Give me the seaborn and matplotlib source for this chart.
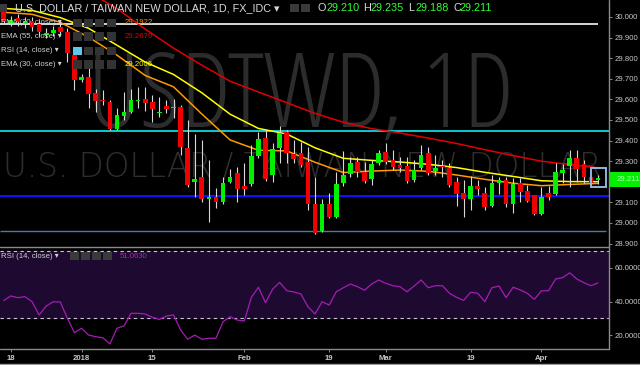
import numpy as np
import pandas as pd
import matplotlib
matplotlib.use("Agg")
import matplotlib.pyplot as plt
import matplotlib.transforms as mtransforms
from matplotlib.patches import Rectangle
from matplotlib.lines import Line2D
from matplotlib.textpath import TextPath
from matplotlib.font_manager import FontProperties
from matplotlib import font_manager as fm
import seaborn as sns

# ---------------- data ----------------
# bar index 0 = 2017-12-18 (daily, weekdays)
bar_idx = list(range(-1, 84))
opens = [30.024, 29.971, 29.995, 29.966, 29.981, 29.966, 29.913, 29.922, 29.951, 29.927,
         29.816, 29.694, 29.709, 29.631, 29.597, 29.587, 29.456, 29.519, 29.539, 29.590,
         29.602, 29.587, 29.534, 29.568, 29.556, 29.563, 29.364, 29.199, 29.223, 29.117,
         29.126, 29.102, 29.199, 29.243, 29.180, 29.189, 29.325, 29.413, 29.233, 29.364,
         29.442, 29.335, 29.340, 29.296, 29.092, 28.961, 29.092, 29.029, 29.194, 29.238,
         29.296, 29.248, 29.214, 29.291, 29.345, 29.306, 29.282, 29.277, 29.209, 29.267,
         29.340, 29.252, 29.277, 29.267, 29.199, 29.146, 29.117, 29.180, 29.146, 29.083,
         29.194, 29.209, 29.092, 29.194, 29.155, 29.136, 29.044, 29.146, 29.141, 29.243,
         29.277, 29.316, 29.286, 29.223, 29.210]
highs = [30.044, 30.005, 30.015, 30.000, 30.000, 29.985, 29.947, 29.956, 29.985, 29.947,
         29.830, 29.723, 29.782, 29.650, 29.646, 29.597, 29.558, 29.636, 29.650, 29.660,
         29.660, 29.621, 29.612, 29.597, 29.602, 29.573, 29.500, 29.432, 29.403, 29.306,
         29.170, 29.223, 29.262, 29.272, 29.291, 29.379, 29.442, 29.451, 29.388, 29.471,
         29.451, 29.403, 29.393, 29.369, 29.223, 29.117, 29.146, 29.248, 29.350, 29.320,
         29.320, 29.296, 29.306, 29.354, 29.388, 29.354, 29.320, 29.320, 29.306, 29.379,
         29.369, 29.330, 29.306, 29.291, 29.223, 29.209, 29.228, 29.209, 29.175, 29.233,
         29.223, 29.223, 29.218, 29.218, 29.184, 29.136, 29.175, 29.180, 29.291, 29.286,
         29.354, 29.354, 29.306, 29.233, 29.235]
lows = [29.966, 29.956, 29.956, 29.947, 29.932, 29.908, 29.898, 29.908, 29.908, 29.782,
        29.646, 29.684, 29.558, 29.539, 29.573, 29.451, 29.451, 29.500, 29.534, 29.558,
        29.544, 29.490, 29.515, 29.534, 29.510, 29.330, 29.175, 29.126, 29.102, 29.005,
        29.073, 29.092, 29.194, 29.102, 29.136, 29.180, 29.316, 29.204, 29.199, 29.291,
        29.291, 29.291, 29.272, 29.063, 28.948, 28.956, 29.024, 29.024, 29.180, 29.223,
        29.223, 29.194, 29.184, 29.282, 29.286, 29.257, 29.248, 29.194, 29.199, 29.257,
        29.233, 29.233, 29.223, 29.175, 29.083, 29.029, 29.063, 29.136, 29.063, 29.078,
        29.141, 29.078, 29.049, 29.102, 29.102, 29.039, 29.039, 29.112, 29.136, 29.194,
        29.175, 29.199, 29.194, 29.184, 29.188]
closes = [29.981, 29.985, 29.976, 29.981, 29.951, 29.927, 29.922, 29.937, 29.927, 29.825,
          29.694, 29.709, 29.626, 29.592, 29.592, 29.456, 29.524, 29.539, 29.597, 29.597,
          29.583, 29.553, 29.539, 29.553, 29.563, 29.369, 29.184, 29.214, 29.117, 29.126,
          29.102, 29.194, 29.223, 29.165, 29.165, 29.325, 29.408, 29.214, 29.359, 29.437,
          29.340, 29.311, 29.282, 29.092, 28.951, 29.092, 29.029, 29.189, 29.233, 29.291,
          29.248, 29.204, 29.286, 29.340, 29.296, 29.272, 29.267, 29.204, 29.257, 29.330,
          29.243, 29.267, 29.270, 29.184, 29.141, 29.117, 29.180, 29.165, 29.078, 29.194,
          29.209, 29.092, 29.189, 29.150, 29.107, 29.044, 29.126, 29.126, 29.248, 29.257,
          29.316, 29.262, 29.223, 29.194, 29.211]

ema_idx = [-1, 3, 7, 11, 15, 19, 23, 27, 31, 35, 39, 43, 47, 51, 55, 59, 63, 67, 71, 75, 79, 83]
ema20 = [30.023, 30.013, 29.974, 29.902, 29.815, 29.716, 29.661, 29.529, 29.403, 29.353, 29.350,
         29.295, 29.245, 29.252, 29.257, 29.251, 29.233, 29.212, 29.193, 29.181, 29.187, 29.1922]
ema30 = [30.042, 30.032, 29.997, 29.945, 29.863, 29.781, 29.721, 29.632, 29.528, 29.459, 29.432,
         29.365, 29.314, 29.304, 29.296, 29.285, 29.269, 29.246, 29.226, 29.205, 29.201, 29.2006]
ema55 = [30.350, 30.252, 30.180, 30.121, 30.041, 29.941, 29.849, 29.766, 29.688, 29.636, 29.584,
         29.532, 29.489, 29.458, 29.437, 29.412, 29.386, 29.356, 29.327, 29.300, 29.284, 29.2679]

rsi = [40.6, 43.3, 42.3, 42.9, 39.9, 32.0, 37.3, 39.9, 39.7, 30.0,
       21.5, 24.1, 20.1, 19.1, 18.5, 14.8, 24.1, 25.5, 33.0, 33.0,
       32.6, 30.6, 29.4, 31.4, 32.0, 23.1, 17.6, 20.1, 17.6, 18.2,
       18.2, 28.0, 31.0, 29.0, 28.4, 42.5, 48.5, 39.3, 47.3, 51.4,
       46.4, 45.7, 44.5, 36.9, 32.6, 39.9, 37.9, 45.8, 48.2, 50.4,
       48.8, 46.7, 50.4, 52.8, 50.8, 49.4, 48.8, 45.8, 49.2, 52.8,
       48.2, 49.4, 49.4, 44.9, 42.5, 40.7, 45.5, 44.9, 39.9, 48.2,
       49.2, 42.3, 48.5, 46.9, 44.9, 41.3, 46.4, 46.4, 53.4, 54.2,
       57.1, 53.4, 51.2, 49.4, 51.063]

level_white = 29.966
level_cyan = 29.447
level_blue = 29.131
level_steel = 28.961

price_ticks = [28.9, 29.0, 29.1, 29.2, 29.3, 29.4, 29.5, 29.6, 29.7, 29.8, 29.9, 30.0]
rsi_ticks = [20, 40, 60]
rsi_bands = [30, 70]
date_ticks = [0, 10, 20, 33, 45, 53, 65, 75]
date_labels = ["18", "2018", "15", "Feb", "19", "Mar", "19", "Apr"]

title = "U.S. DOLLAR / TAIWAN NEW DOLLAR, 1D, FX_IDC"
watermark_big = "USDTWD, 1D"
watermark_small = "U.S. DOLLAR / TAIWAN NEW DOLLAR"
ohlc_names = ["O", "H", "L", "C"]
ohlc_vals = ["29.210", "29.235", "29.188", "29.211"]
legend_rows = [("EMA (20, close)", "29.1922", "#ff9a00"),
               ("EMA (55, close)", "29.2679", "#e00000"),
               ("RSI (14, close)", "", "#ffffff"),
               ("EMA (30, close)", "29.2006", "#ffff00")]
rsi_legend = ("RSI (14, close)", "51.0630")

# ---------------- style ----------------
sns.set_theme(style="dark")
plt.rcParams['font.family'] = ['Liberation Sans', 'DejaVu Sans']
plt.rcParams['axes.facecolor'] = 'black'
plt.rcParams['figure.facecolor'] = 'black'

GREEN = '#00f000'
RED = '#f00000'
GRID = '#8a8a8a'
TXT = '#c8c8c8'
DPI = 100
W, H = 640, 365


def fx(x):
    return x / W


def fy(y):
    return 1 - y / H


def fit_font(s, target_w, target_cap, mix=0.5):
    """Pick an installed thin font file whose proportions best match; size it to the target box."""
    fams = {'Noto Sans', 'Roboto', 'Open Sans', 'DejaVu Sans', 'Lato', 'Liberation Sans', 'Inter'}
    best = None
    seen = set()
    for e in fm.fontManager.ttflist:
        if e.name not in fams or e.style != 'normal' or e.fname in seen:
            continue
        seen.add(e.fname)
        try:
            wt = int(e.weight)
        except Exception:
            wt = 400
        if wt > 400:
            continue
        try:
            fp = FontProperties(fname=e.fname)
            w = TextPath((0, 0), s, size=10, prop=fp).get_extents().width
            cap = TextPath((0, 0), "D", size=10, prop=fp).get_extents().height
        except Exception:
            continue
        if w <= 0 or cap <= 0:
            continue
        score = abs(np.log((w / cap) / (target_w / target_cap))) + (0.04 if wt >= 400 else 0.0)
        if best is None or score < best[0]:
            best = (score, fp, w, cap)
    if best is None:
        fp = FontProperties(family='DejaVu Sans')
        w = TextPath((0, 0), s, size=10, prop=fp).get_extents().width
        cap = TextPath((0, 0), "D", size=10, prop=fp).get_extents().height
        best = (0, fp, w, cap)
    _, fp, w, cap = best
    size_w = 10 * (target_w * 72 / DPI) / w
    size_h = 10 * (target_cap * 72 / DPI) / cap
    fp = fp.copy()
    fp.set_size(float(size_w ** (1 - mix) * size_h ** mix))
    return fp


fig = plt.figure(figsize=(6.4, 3.65), dpi=DPI, facecolor='black')
ax = fig.add_axes([0, fy(246), fx(609), 246 / H])
axr = fig.add_axes([0, fy(349), fx(609), 101 / H])

xmin, xmax = -1.527, 84.55
for a in (ax, axr):
    a.set_facecolor('black')
    a.set_xlim(xmin, xmax)
    a.grid(False)
    for s in a.spines.values():
        s.set_visible(False)
ax.set_ylim(28.8883, 30.0825)
axr.set_ylim(11.8, 71.8)

# watermark
fp_big = fit_font(watermark_big, 437, 70, mix=0.5)
ax.text(301.5 / 609, 1 - 127 / 246, watermark_big, transform=ax.transAxes, ha='center', va='baseline',
        fontproperties=fp_big, color='#2c2c2c', zorder=0)
fp_small = fit_font(watermark_small, 601, 22, mix=0.15)
ax.text(302.5 / 609, 1 - 177 / 246, watermark_small, transform=ax.transAxes, ha='center', va='baseline',
        fontproperties=fp_small, color='#2e2e2e', zorder=0)

# horizontal levels
ax.hlines(level_white, xmin, bar_idx[-1], color='#e6e6e6', lw=1.3, zorder=2)
ax.axhline(level_cyan, color='#10d8e0', lw=1.3, zorder=2)
ax.axhline(level_blue, color='#1010ff', lw=1.5, zorder=2)
ax.hlines(level_steel, xmin, bar_idx[-1] + 1.1, color='#4a78b0', lw=1.0, zorder=2)

# EMA lines
sns.lineplot(x=ema_idx, y=ema55, ax=ax, color='#e00000', lw=1.1, zorder=3)
sns.lineplot(x=ema_idx, y=ema30, ax=ax, color='#ffff00', lw=1.1, zorder=3)
sns.lineplot(x=ema_idx, y=ema20, ax=ax, color='#ff9a00', lw=1.1, zorder=3)

# candles
o = np.array(opens); c = np.array(closes)
ax.vlines(bar_idx, lows, highs, color='#d8d8d8', lw=0.8, zorder=4)
body_h = np.maximum(np.abs(c - o), 0.007)
body_b = np.minimum(o, c)
cols = [GREEN if cc >= oo else RED for oo, cc in zip(o, c)]
ax.bar(bar_idx, body_h, bottom=body_b, width=0.66, color=cols, linewidth=0, zorder=5)

# highlight box around last bar
ax.add_patch(Rectangle((bar_idx[-1] - 1.05, closes[-1] - 0.036), 2.15, 0.092, fill=False,
                       ec='#8fb8dc', lw=1.4, zorder=6))

# price axis (the 29.200 label sits under the last-price tag)
ax.yaxis.tick_right()
ax.set_yticks(price_ticks)
ax.set_yticklabels(["" if abs(t - 29.2) < 1e-9 else f"{t:.3f}" for t in price_ticks])
ax.tick_params(axis='y', colors=GRID, labelcolor=TXT, labelsize=5.6, length=2.5, width=0.7, pad=1.5,
               left=False, right=True)
ax.set_xticks([])
ax.set_xlabel(''); ax.set_ylabel('')

# last price tag
tr = mtransforms.blended_transform_factory(ax.transAxes, ax.transData)
ax.add_patch(Rectangle((1.0, closes[-1] - 0.036), 0.06, 0.073, transform=tr, clip_on=False,
                       fc='#00f000', ec='none', zorder=7))
ax.text(1.012, closes[-1], ohlc_vals[3], transform=tr, ha='left', va='center', fontsize=5.6,
        color='#b8ffb8', clip_on=False, zorder=8)

# RSI panel
axr.axhspan(rsi_bands[0], rsi_bands[1], color='#1e0a30', zorder=0)
for b in rsi_bands:
    axr.axhline(b, color='#c8c8c8', lw=0.8, dashes=(3, 3), zorder=1)
sns.lineplot(x=bar_idx, y=rsi, ax=axr, color='#a41cb4', lw=0.9, zorder=3)
axr.yaxis.tick_right()
axr.set_yticks(rsi_ticks)
axr.set_yticklabels([f"{t:.4f}" for t in rsi_ticks])
axr.tick_params(axis='y', colors=GRID, labelcolor=TXT, labelsize=5.6, length=2.5, width=0.7, pad=1.5,
                left=False, right=True)
axr.set_xticks(date_ticks)
axr.set_xticklabels(date_labels)
axr.tick_params(axis='x', colors=GRID, labelcolor=TXT, labelsize=5.6, length=2.5, width=0.7, pad=2,
                bottom=True)
for lab in axr.get_xticklabels():
    lab.set_fontweight('bold')
axr.set_xlabel(''); axr.set_ylabel('')

# frame lines
fig.add_artist(Line2D([fx(609), fx(609)], [fy(349), 1], color=GRID, lw=1.0))
fig.add_artist(Line2D([0, fx(609)], [fy(349), fy(349)], color=GRID, lw=1.0))
fig.add_artist(Line2D([0, fx(609)], [fy(246.5), fy(246.5)], color=GRID, lw=1.0))
fig.add_artist(Line2D([0, 1], [fy(364), fy(364)], color='#9a9a9a', lw=1.0))

# header
fig.add_artist(Rectangle((fx(0), fy(12)), fx(7), 8 / H, fc='#3a3a3a', ec='none'))
fig.text(fx(15), fy(8), title + " \u25be", ha='left', va='center', fontsize=7.8, color='#d8d8d8')
for xi in (290, 301):
    fig.add_artist(Rectangle((fx(xi), fy(12)), fx(9), 8 / H, fc='#3a3a3a', ec='none'))
name_x = [318, 363, 408, 453]
val_x = [326.5, 370.8, 415, 460]
for nm, v, nx, vx in zip(ohlc_names, ohlc_vals, name_x, val_x):
    fig.text(fx(nx), fy(8), nm, ha='left', va='center', fontsize=7.8, color='#d8d8d8')
    fig.text(fx(vx), fy(8), v, ha='left', va='center', fontsize=7.8, color='#33ff33')

# indicator legend
row_y = [23, 36.5, 51, 64.5]
for (lab, val, colr), yy in zip(legend_rows, row_y):
    fig.text(fx(1), fy(yy), lab + " \u25be", ha='left', va='center', fontsize=5.6, color='#d0d0d0')
    for k, xi in enumerate((73, 84, 95, 107)):
        fc = '#5bc8e8' if (lab.startswith('RSI') and k == 0) else '#333333'
        fig.add_artist(Rectangle((fx(xi), fy(yy + 4)), fx(9), 8 / H, fc=fc, ec='none'))
    if val:
        fig.text(fx(125), fy(yy), val, ha='left', va='center', fontsize=5.6, color=colr)

fig.text(fx(1), fy(256), rsi_legend[0] + " \u25be", ha='left', va='center', fontsize=5.6, color='#d0d0d0')
for xi in (70, 81, 92, 103):
    fig.add_artist(Rectangle((fx(xi), fy(260)), fx(9), 8 / H, fc='#3a3a3a', ec='none'))
fig.text(fx(120), fy(256), rsi_legend[1], ha='left', va='center', fontsize=5.6, color='#b020c0')

fig.savefig("out.png", dpi=DPI, facecolor='black')
